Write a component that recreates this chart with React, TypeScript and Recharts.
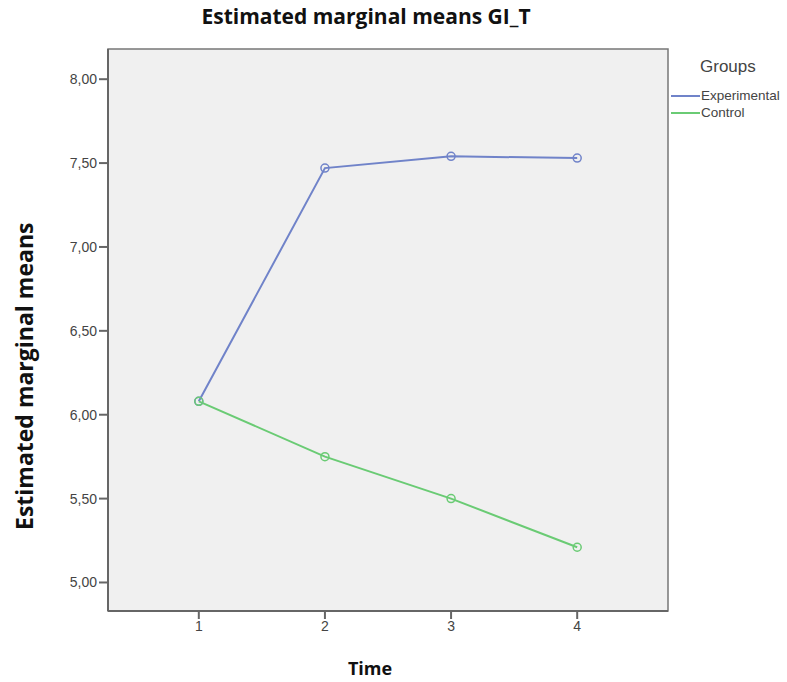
import { LineChart, Line, XAxis, YAxis, ReferenceArea } from "recharts";

const times: number[] = [1, 2, 3, 4];
const experimental: number[] = [6.08, 7.47, 7.54, 7.53];
const control: number[] = [6.08, 5.75, 5.5, 5.21];
const yTicks: number[] = [5, 5.5, 6, 6.5, 7, 7.5, 8];
const groupNames: string[] = ["Experimental", "Control"];
const groupColors: string[] = ["#7083c9", "#6acb74"];

const X_DOMAIN: [number, number] = [0.28, 4.72];
const Y_DOMAIN: [number, number] = [4.83, 8.18];

const data = times.map((t, i) => ({
  time: t,
  Experimental: experimental[i],
  Control: control[i],
}));

const boldFont = '"Open Sans", "Liberation Sans", sans-serif';
const tickFont = '"Liberation Sans", Arial, sans-serif';

function GroupsLegend() {
  return (
    <div style={{ position: "absolute", left: 671, top: 57, fontFamily: tickFont, color: "#444" }}>
      <div style={{ fontSize: 17, marginLeft: 29, marginBottom: 10 }}>Groups</div>
      {groupNames.map((name, i) => (
        <div key={name} style={{ display: "flex", alignItems: "center", height: 17, fontSize: 13.5 }}>
          <span style={{ display: "inline-block", width: 29, height: 2, background: groupColors[i], marginRight: 1 }} />
          <span>{name}</span>
        </div>
      ))}
    </div>
  );
}

export default function App() {
  return (
    <div style={{ position: "absolute", left: 0, top: 0, width: 787, height: 682, background: "#fff" }}>
      <div
        style={{
          position: "absolute",
          top: 2,
          left: 0,
          width: 732,
          textAlign: "center",
          fontFamily: boldFont,
          fontWeight: 700,
          fontSize: 21,
          color: "#111",
        }}
      >
        Estimated marginal means GI_T
      </div>
      <div
        style={{
          position: "absolute",
          left: 8,
          top: 222,
          height: 308,
          writingMode: "vertical-rl",
          transform: "rotate(180deg)",
          textAlign: "center",
          fontFamily: boldFont,
          fontWeight: 700,
          fontSize: 23,
          color: "#111",
        }}
      >
        Estimated marginal means
      </div>
      <div
        style={{
          position: "absolute",
          top: 656,
          left: 270,
          width: 200,
          textAlign: "center",
          fontFamily: boldFont,
          fontWeight: 700,
          fontSize: 18,
          color: "#111",
        }}
      >
        Time
      </div>
      <LineChart
        width={787}
        height={682}
        data={data}
        margin={{ top: 49, right: 119, bottom: 41, left: 48 }}
      >
        <ReferenceArea
          x1={X_DOMAIN[0]}
          x2={X_DOMAIN[1]}
          y1={Y_DOMAIN[0]}
          y2={Y_DOMAIN[1]}
          fill="#f0f0f0"
          fillOpacity={1}
          stroke="#777"
          strokeWidth={1.5}
        />
        <XAxis
          dataKey="time"
          type="number"
          domain={X_DOMAIN}
          ticks={times}
          height={30}
          tickSize={8}
          axisLine={{ stroke: "#666", strokeWidth: 2 }}
          tickLine={{ stroke: "#666", strokeWidth: 2 }}
          tick={{ fill: "#444", fontSize: 14, fontFamily: tickFont }}
        />
        <YAxis
          type="number"
          domain={Y_DOMAIN}
          ticks={yTicks}
          width={60}
          tickSize={9}
          tickMargin={2}
          allowDataOverflow
          axisLine={{ stroke: "#666", strokeWidth: 2 }}
          tickLine={{ stroke: "#666", strokeWidth: 2 }}
          tick={{ fill: "#444", fontSize: 14, fontFamily: tickFont }}
          tickFormatter={(v: number) => v.toFixed(2).replace(".", ",")}
        />
        {groupNames.map((name, i) => (
          <Line
            key={name}
            dataKey={name}
            stroke={groupColors[i]}
            strokeWidth={2}
            dot={{ r: 4, stroke: groupColors[i], strokeWidth: 1.5, fill: "none" }}
            activeDot={false}
            isAnimationActive={false}
          />
        ))}
      </LineChart>
      <GroupsLegend />
    </div>
  );
}
